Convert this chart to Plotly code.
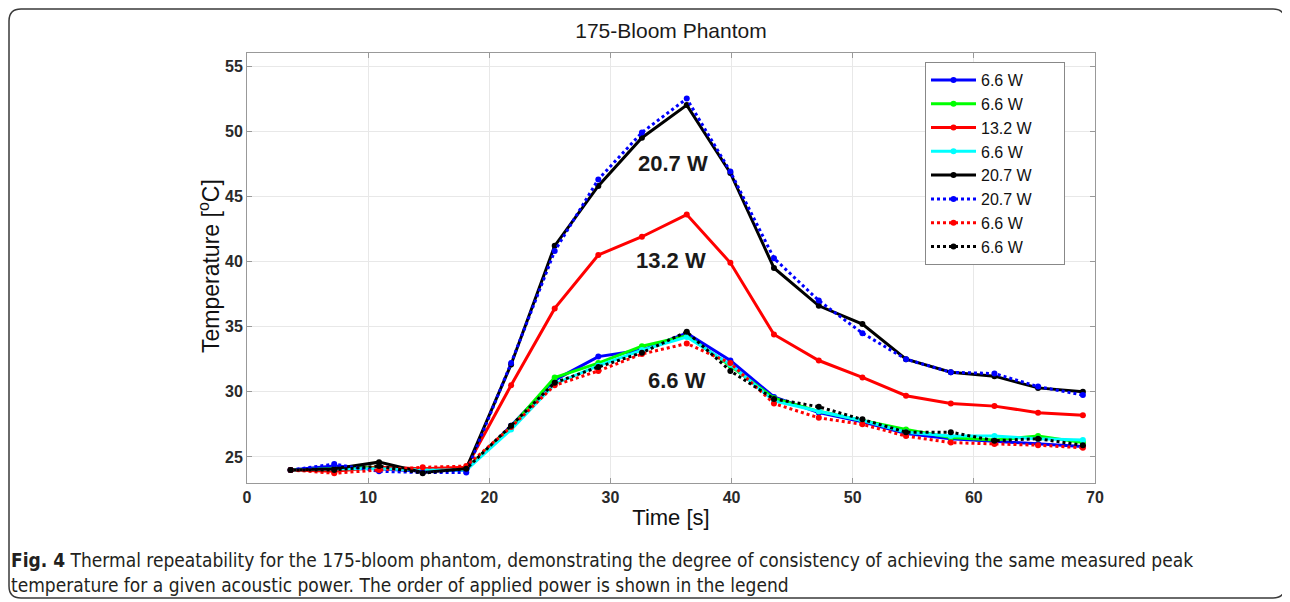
import plotly.graph_objects as go

time_s = [3.6, 7.2, 10.9, 14.5, 18.1, 21.8, 25.4, 29.0, 32.6, 36.3,
          39.9, 43.5, 47.2, 50.8, 54.4, 58.1, 61.7, 65.3, 69.0]

run1_blue_66 = [24.0, 24.3, 24.1, 23.9, 24.0, 27.4, 30.9, 32.7, 33.2, 34.5,
                32.4, 29.6, 28.4, 27.7, 26.8, 26.4, 26.2, 26.0, 25.8]
run2_green_66 = [24.0, 24.1, 24.2, 24.0, 24.1, 27.3, 31.1, 32.2, 33.5, 34.3,
                 32.0, 29.5, 28.5, 27.8, 27.1, 26.5, 26.3, 26.6, 26.1]
run3_red_132 = [24.0, 23.9, 24.2, 24.1, 24.2, 30.5, 36.4, 40.5, 41.9, 43.6,
                39.9, 34.4, 32.4, 31.1, 29.7, 29.1, 28.9, 28.4, 28.2]
run4_cyan_66 = [24.0, 24.1, 24.1, 24.0, 24.0, 27.1, 30.6, 32.0, 33.2, 34.2,
                32.1, 29.3, 28.5, 27.8, 26.9, 26.6, 26.6, 26.4, 26.3]
run5_black_207 = [24.0, 24.1, 24.6, 23.8, 24.1, 32.1, 41.2, 45.8, 49.5, 52.0,
                  46.8, 39.5, 36.6, 35.2, 32.5, 31.5, 31.2, 30.3, 30.0]
run6_bluedot_207 = [24.0, 24.45, 23.9, 23.8, 23.8, 32.2, 40.8, 46.3, 49.9, 52.5,
                    46.9, 40.25, 37.0, 34.5, 32.5, 31.5, 31.4, 30.4, 29.75]
run7_reddot_66 = [24.0, 23.75, 24.0, 24.2, 24.3, 27.3, 30.5, 31.6, 32.9, 33.7,
                  32.2, 29.1, 28.0, 27.5, 26.6, 26.1, 26.0, 25.9, 25.7]
run8_blackdot_66 = [24.0, 24.0, 24.3, 23.75, 24.1, 27.4, 30.7, 31.9, 33.0, 34.6,
                    31.6, 29.45, 28.85, 27.9, 26.9, 26.9, 26.25, 26.4, 25.9]

series = [
    ("6.6 W", run1_blue_66, "#0000ff", "solid"),
    ("6.6 W", run2_green_66, "#00ff00", "solid"),
    ("13.2 W", run3_red_132, "#ff0000", "solid"),
    ("6.6 W", run4_cyan_66, "#00ffff", "solid"),
    ("20.7 W", run5_black_207, "#000000", "solid"),
    ("20.7 W", run6_bluedot_207, "#0000ff", "dot"),
    ("6.6 W", run7_reddot_66, "#ff0000", "dot"),
    ("6.6 W", run8_blackdot_66, "#000000", "dot"),
]

x_ticks = [0, 10, 20, 30, 40, 50, 60, 70]
y_ticks = [25, 30, 35, 40, 45, 50, 55]

peak_labels = ["20.7 W", "13.2 W", "6.6 W"]
peak_label_x = [35.2, 35.0, 35.5]
peak_label_y = [47.55, 40.1, 30.9]

caption = ("<b>Fig. 4</b> Thermal repeatability for the 175-bloom phantom, demonstrating the degree of "
           "consistency of achieving the same measured peak<br>temperature for a given acoustic power. "
           "The order of applied power is shown in the legend")

PAD = "\u00a0" * 6

fig = go.Figure()
for i, (name, vals, col, dash) in enumerate(series):
    fig.add_trace(go.Scatter(
        x=time_s, y=vals, name=name + PAD, mode="lines+markers",
        line=dict(color=col, width=3, dash=dash),
        marker=dict(color=col, size=6),
        legendgroup="g%d" % i,
    ))

for t, xx, yy in zip(peak_labels, peak_label_x, peak_label_y):
    fig.add_annotation(x=xx, y=yy, text="<b>%s</b>" % t, showarrow=False,
                       font=dict(family="Liberation Sans, Arial", size=22, color="#1a1a1a"))

OFF = 8  # page body margin
W, H = 1290, 602
L, R, T, B = 247 - OFF, 1095 - OFF, 53 - OFF, 483 - OFF
pw, ph = R - L, B - T

def px(xp):
    return (xp - OFF - L) / pw

def py(yp):
    return (B - (yp - OFF)) / ph

# rounded figure frame (kept inside the figure area)
x0, x1, y0, y1, r = 9, 1285, 9, 598, 12
path = (f"M {px(x0 + r)},{py(y0)} L {px(x1 - r)},{py(y0)} Q {px(x1)},{py(y0)} {px(x1)},{py(y0 + r)} "
        f"L {px(x1)},{py(y1 - r)} Q {px(x1)},{py(y1)} {px(x1 - r)},{py(y1)} "
        f"L {px(x0 + r)},{py(y1)} Q {px(x0)},{py(y1)} {px(x0)},{py(y1 - r)} "
        f"L {px(x0)},{py(y0 + r)} Q {px(x0)},{py(y0)} {px(x0 + r)},{py(y0)} Z")
fig.add_shape(type="path", path=path, xref="paper", yref="paper",
              line=dict(color="#3a3a3a", width=1.5), layer="below")

fig.add_annotation(x=px(9), y=py(572), xref="paper", yref="paper", xanchor="left", yanchor="middle",
                   align="left", showarrow=False, text=caption,
                   font=dict(family="DejaVu Sans Condensed, Open Sans, sans-serif", size=19, color="#231f20"))

fig.add_annotation(x=px(209), y=py(266), xref="paper", yref="paper", xanchor="center", yanchor="middle",
                   textangle=-90, showarrow=False, text="Temperature [<sup>o</sup>C]",
                   font=dict(family="Liberation Sans, Arial", size=23, color="#111"))

tick_font = dict(family="Liberation Sans, Arial", size=16, color="#2a2a2a", weight="bold")

fig.update_layout(
    width=W, height=H,
    margin=dict(l=L, r=W - R, t=T, b=H - B),
    paper_bgcolor="white", plot_bgcolor="white",
    title=dict(text="175-Bloom Phantom", x=(671 - OFF) / W, xanchor="center",
               y=1 - (31 - OFF) / H, yanchor="middle",
               font=dict(family="Liberation Sans, Arial", size=21, color="#1a1a1a")),
    font=dict(family="Liberation Sans, Arial", size=16, color="#111"),
    showlegend=True,
    legend=dict(x=px(925), y=py(62), xanchor="left", yanchor="top",
                bordercolor="#888", borderwidth=1, bgcolor="white",
                font=dict(size=16, color="#111"), tracegroupgap=0, itemwidth=45),
    xaxis=dict(range=[0, 70], tickvals=x_ticks,
               showgrid=True, gridcolor="#e8e8e8", gridwidth=1,
               showline=True, linecolor="#999", linewidth=1, mirror="ticks",
               ticks="inside", ticklen=5, tickcolor="#999", zeroline=False,
               title=dict(text="Time [s]", font=dict(size=22, color="#111"), standoff=4),
               tickfont=tick_font),
    yaxis=dict(range=[23, 56], tickvals=y_ticks,
               showgrid=True, gridcolor="#e8e8e8", gridwidth=1,
               showline=True, linecolor="#999", linewidth=1, mirror="ticks",
               ticks="inside", ticklen=5, tickcolor="#999", zeroline=False,
               ticklabelstandoff=0,
               tickfont=tick_font),
)

fig.write_html("out.html")
